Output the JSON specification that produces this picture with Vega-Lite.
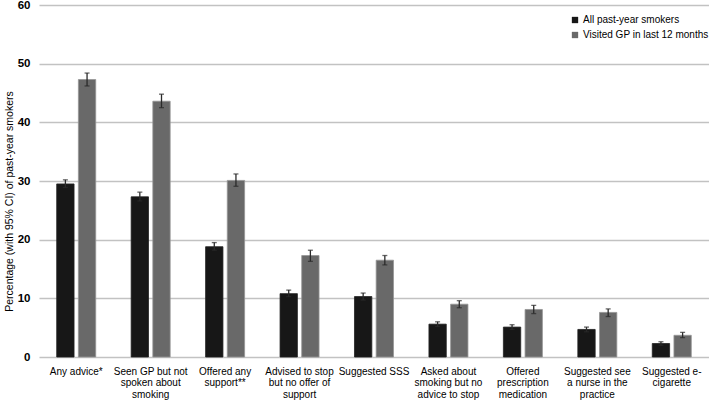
{
  "$schema": "https://vega.github.io/schema/vega-lite/v6.json",
  "width": 670,
  "height": 352,
  "autosize": {"type": "none"},
  "padding": {"left": 39, "right": 0, "top": 5, "bottom": 45},
  "background": "white",
  "config": {
    "view": {"stroke": null},
    "font": "Liberation Sans"
  },
  "data": {
    "values": [
      {"category": "Any advice*", "series": "All past-year smokers", "value": 29.5, "lo": 28.9, "hi": 30.2},
      {"category": "Any advice*", "series": "Visited GP in last 12 months", "value": 47.3, "lo": 46.2, "hi": 48.4},
      {"category": "Seen GP but not spoken about smoking", "series": "All past-year smokers", "value": 27.3, "lo": 26.6, "hi": 28.1},
      {"category": "Seen GP but not spoken about smoking", "series": "Visited GP in last 12 months", "value": 43.6, "lo": 42.5, "hi": 44.8},
      {"category": "Offered any support**", "series": "All past-year smokers", "value": 18.8, "lo": 18.2, "hi": 19.5},
      {"category": "Offered any support**", "series": "Visited GP in last 12 months", "value": 30.1, "lo": 29.1, "hi": 31.2},
      {"category": "Advised to stop but no offer of support", "series": "All past-year smokers", "value": 10.8, "lo": 10.3, "hi": 11.4},
      {"category": "Advised to stop but no offer of support", "series": "Visited GP in last 12 months", "value": 17.3, "lo": 16.3, "hi": 18.2},
      {"category": "Suggested SSS", "series": "All past-year smokers", "value": 10.3, "lo": 9.7, "hi": 10.9},
      {"category": "Suggested SSS", "series": "Visited GP in last 12 months", "value": 16.5, "lo": 15.7, "hi": 17.3},
      {"category": "Asked about smoking but no advice to stop", "series": "All past-year smokers", "value": 5.6, "lo": 5.2, "hi": 6.0},
      {"category": "Asked about smoking but no advice to stop", "series": "Visited GP in last 12 months", "value": 9.0, "lo": 8.4, "hi": 9.6},
      {"category": "Offered prescription medication", "series": "All past-year smokers", "value": 5.1, "lo": 4.7, "hi": 5.5},
      {"category": "Offered prescription medication", "series": "Visited GP in last 12 months", "value": 8.1, "lo": 7.4, "hi": 8.8},
      {"category": "Suggested see a nurse in the practice", "series": "All past-year smokers", "value": 4.7, "lo": 4.3, "hi": 5.1},
      {"category": "Suggested see a nurse in the practice", "series": "Visited GP in last 12 months", "value": 7.6, "lo": 6.9, "hi": 8.2},
      {"category": "Suggested e-cigarette", "series": "All past-year smokers", "value": 2.3, "lo": 2.0, "hi": 2.6},
      {"category": "Suggested e-cigarette", "series": "Visited GP in last 12 months", "value": 3.7, "lo": 3.3, "hi": 4.2}
    ]
  },
  "encoding": {
    "x": {
      "field": "category", "type": "nominal", "sort": null,
      "scale": {"paddingInner": 0.476, "paddingOuter": 0.238},
      "axis": {
        "title": null, "labelAngle": 0, "ticks": false, "domain": false,
        "labelFontSize": 10, "labelColor": "#000", "labelPadding": 9, "labelLineHeight": 11.5, "labelLimit": 200,
        "labelExpr": "datum.value == 'Seen GP but not spoken about smoking' ? ['Seen GP but not','spoken about','smoking'] : datum.value == 'Offered any support**' ? ['Offered any','support**'] : datum.value == 'Advised to stop but no offer of support' ? ['Advised to stop','but no offer of','support'] : datum.value == 'Asked about smoking but no advice to stop' ? ['Asked about','smoking but no','advice to stop'] : datum.value == 'Offered prescription medication' ? ['Offered','prescription','medication'] : datum.value == 'Suggested see a nurse in the practice' ? ['Suggested see','a nurse in the','practice'] : datum.value == 'Suggested e-cigarette' ? ['Suggested e-','cigarette'] : datum.value"
      }
    },
    "xOffset": {"field": "series", "type": "nominal", "scale": {"paddingInner": 0.2, "paddingOuter": 0}}
  },
  "layer": [
    {
      "mark": {"type": "bar", "strokeWidth": 0.8},
      "encoding": {
        "y": {
          "field": "value", "type": "quantitative",
          "scale": {"domain": [0, 60], "nice": false},
          "axis": {
            "title": "Percentage (with 95% CI) of past-year smokers",
            "titleFontSize": 10.5, "titleFontWeight": "normal", "titleColor": "#000", "titlePadding": 3, "titleY": 196,
            "values": [0, 10, 20, 30, 40, 50, 60],
            "labelFontSize": 11.5, "labelFontWeight": "bold", "labelColor": "#000", "labelPadding": 9,
            "ticks": false, "domain": false,
            "grid": true, "gridColor": "#c2c2c2", "gridWidth": 1.5
          }
        },
        "color": {
          "field": "series", "type": "nominal",
          "scale": {"domain": ["All past-year smokers", "Visited GP in last 12 months"], "range": ["#171717", "#696969"]},
          "legend": {
            "title": null, "orient": "none", "legendX": 531, "legendY": 10, "padding": 0,
            "symbolType": "square", "symbolSize": 40, "symbolStrokeWidth": 0,
            "labelFontSize": 10, "labelColor": "#000", "rowPadding": 5, "labelOffset": 3
          }
        },
        "stroke": {
          "field": "series", "type": "nominal",
          "scale": {"domain": ["All past-year smokers", "Visited GP in last 12 months"], "range": ["#222222", "#959595"]},
          "legend": null
        }
      }
    },
    {
      "mark": {"type": "rule", "color": "#2a2a2a", "strokeWidth": 1.3},
      "encoding": {
        "y": {"field": "lo", "type": "quantitative"},
        "y2": {"field": "hi"}
      }
    },
    {
      "mark": {"type": "tick", "color": "#2a2a2a", "thickness": 1.3, "size": 5, "orient": "horizontal"},
      "encoding": {"y": {"field": "lo", "type": "quantitative"}}
    },
    {
      "mark": {"type": "tick", "color": "#2a2a2a", "thickness": 1.3, "size": 5, "orient": "horizontal"},
      "encoding": {"y": {"field": "hi", "type": "quantitative"}}
    }
  ]
}
